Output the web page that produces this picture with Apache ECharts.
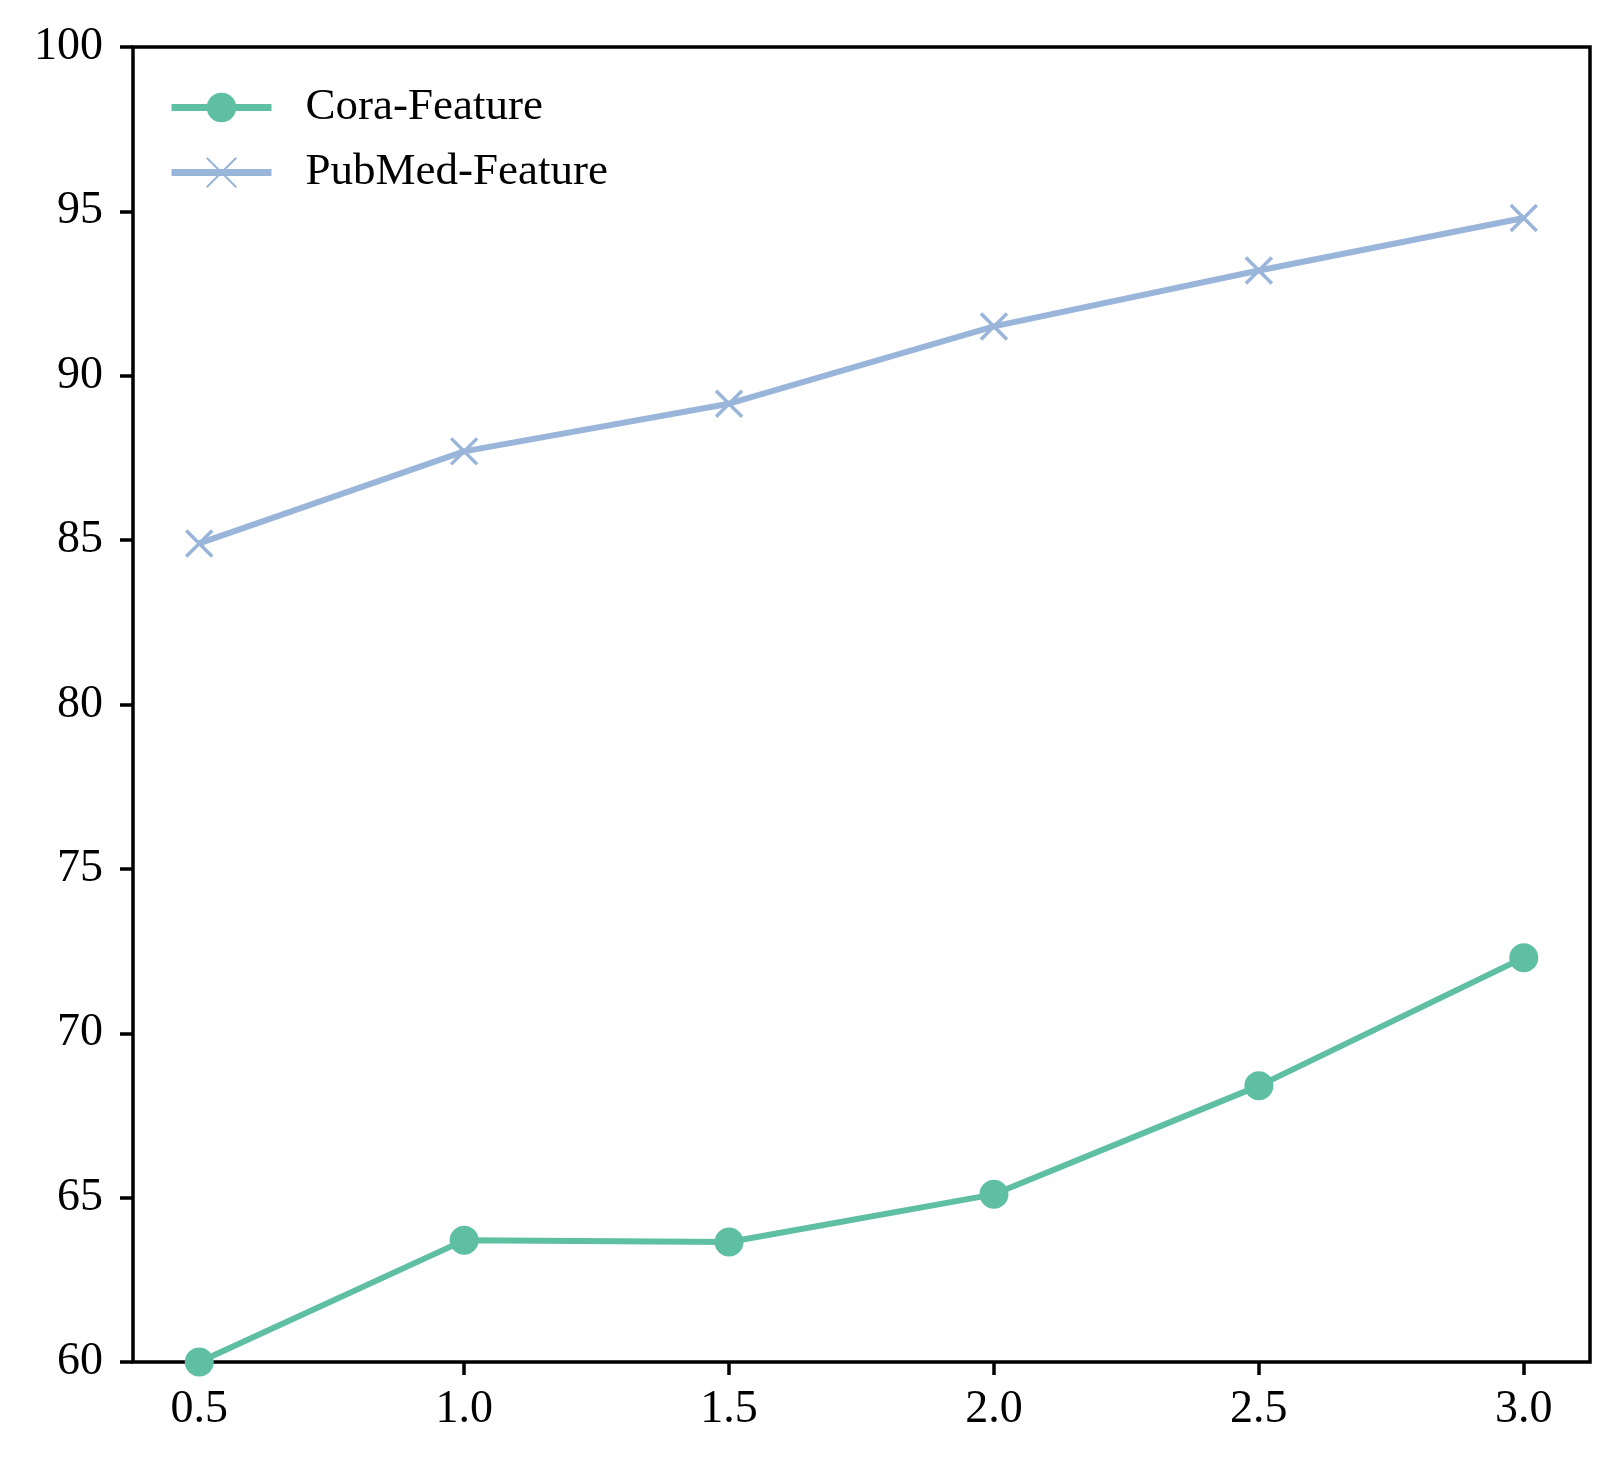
<!DOCTYPE html>
<html>
<head>
    <meta charset="utf-8">
    <title>ECharts</title>
    <script src="https://cdn.jsdelivr.net/npm/echarts@6/dist/echarts.min.js"></script>
    <style>
        body { margin: 0; background: #fff; }
    </style>
</head>
<body>
    <div id="main" style="width: 1619px;height:1467px;"></div>
    <script type="text/javascript">
        var myChart = echarts.init(document.getElementById('main'));

        // x positions and the two series
        var xValues = [0.5, 1.0, 1.5, 2.0, 2.5, 3.0];
        var coraFeature = [60.0, 63.7, 63.65, 65.1, 68.4, 72.3];
        var pubmedFeature = [84.9, 87.7, 89.15, 91.5, 93.2, 94.8];
        var seriesNames = ['Cora-Feature', 'PubMed-Feature'];

        function pairs(ys) {
            return xValues.map(function (x, i) { return [x, ys[i]]; });
        }

        var font = 'Liberation Serif';
        var crossPath = 'path://M0,0L10,10M10,0L0,10';
        var green = '#5fbfa2';
        var blue = '#9ab5da';

        var option = {
            backgroundColor: '#fff',
            animation: false,
            grid: {
                left: 133,
                right: 29,
                top: 47,
                bottom: 105,
                show: true,
                borderColor: '#000',
                borderWidth: 3.5,
                backgroundColor: 'transparent'
            },
            legend: {
                left: 163,
                top: 80,
                orient: 'vertical',
                itemWidth: 100,
                itemHeight: 37,
                itemGap: 20,
                lineStyle: { width: 7 },
                textStyle: {
                    fontFamily: font,
                    fontSize: 45,
                    color: '#000',
                    padding: [0, 0, 0, 29]
                },
                data: seriesNames
            },
            xAxis: {
                type: 'value',
                min: 0.375,
                max: 3.125,
                splitLine: { show: false },
                axisLine: { show: false },
                axisTick: {
                    show: true,
                    length: 13,
                    customValues: xValues,
                    lineStyle: { color: '#000', width: 3.5 }
                },
                axisLabel: {
                    customValues: xValues,
                    fontFamily: font,
                    fontSize: 46,
                    color: '#000',
                    margin: 25,
                    formatter: function (v) { return v.toFixed(1); }
                }
            },
            yAxis: {
                type: 'value',
                min: 60,
                max: 100,
                interval: 5,
                splitLine: { show: false },
                axisLine: { show: false },
                axisTick: {
                    show: true,
                    length: 13,
                    lineStyle: { color: '#000', width: 3.5 }
                },
                axisLabel: {
                    fontFamily: font,
                    fontSize: 46,
                    color: '#000',
                    margin: 30
                }
            },
            series: [{
                name: seriesNames[0],
                type: 'line',
                data: pairs(coraFeature),
                symbol: 'circle',
                symbolSize: 29,
                color: green,
                lineStyle: { width: 6, color: green },
                itemStyle: { color: green }
            }, {
                name: seriesNames[1],
                type: 'line',
                data: pairs(pubmedFeature),
                symbol: crossPath,
                symbolSize: 26,
                color: blue,
                lineStyle: { width: 6, color: blue },
                itemStyle: { color: 'none', borderColor: blue, borderWidth: 3.5 }
            }]
        };

        myChart.setOption(option);
    </script>
</body>
</html>
